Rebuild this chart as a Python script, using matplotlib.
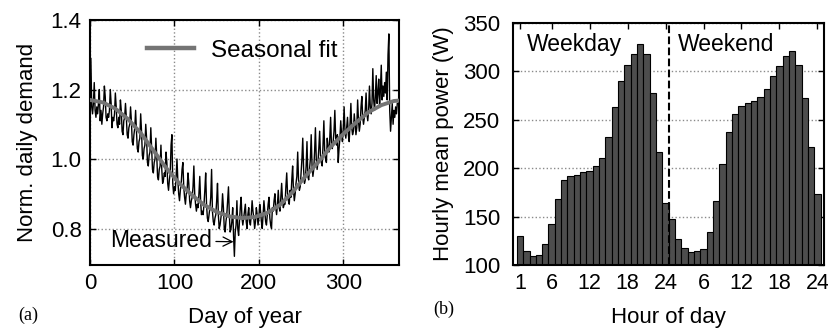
import numpy as np
import matplotlib.pyplot as plt
from matplotlib.lines import Line2D

plt.rcParams['font.family'] = ['Liberation Sans', 'DejaVu Sans']
plt.rcParams['font.size'] = 16

# (a) daily normalised demand, one value per day, read week by week
measured = [
    1.19, 1.29, 1.15, 1.13, 1.16, 1.22, 1.14,
    1.12, 1.15, 1.13, 1.16, 1.20, 1.11, 1.14,
    1.10, 1.13, 1.15, 1.21, 1.18, 1.12, 1.11,
    1.13, 1.12, 1.14, 1.20, 1.16, 1.09, 1.12,
    1.11, 1.13, 1.19, 1.15, 1.10, 1.09, 1.12,
    1.10, 1.17, 1.14, 1.08, 1.07, 1.11, 1.12,
    1.16, 1.12, 1.07, 1.06, 1.09, 1.10, 1.15,
    1.11, 1.05, 1.04, 1.07, 1.09, 1.14, 1.08,
    1.03, 1.02, 1.05, 1.06, 1.13, 1.08, 1.01,
    1.00, 1.03, 1.04, 1.10, 1.06, 0.99, 0.98,
    1.01, 1.02, 1.09, 1.03, 0.97, 0.96, 0.99,
    1.00, 1.06, 1.01, 0.95, 0.94, 0.97, 0.98,
    1.04, 0.97, 0.93, 0.94, 0.96, 0.95, 1.02,
    0.99, 0.93, 0.91, 0.94, 0.96, 1.04, 1.07,
    0.93, 0.90, 0.92, 0.91, 0.95, 1.00, 0.94,
    0.90, 0.88, 0.91, 0.93, 0.97, 0.99, 0.92,
    0.89, 0.87, 0.90, 0.91, 0.96, 0.93, 0.88,
    0.86, 0.88, 0.89, 0.92, 0.98, 0.90, 0.87,
    0.85, 0.87, 0.86, 0.90, 0.95, 0.88, 0.84,
    0.85, 0.84, 0.87, 0.91, 0.96, 0.87, 0.83,
    0.82, 0.84, 0.86, 0.89, 0.97, 0.85, 0.82,
    0.81, 0.83, 0.84, 0.88, 0.93, 0.84, 0.80,
    0.81, 0.83, 0.85, 0.90, 0.86, 0.80, 0.79,
    0.82, 0.84, 0.88, 0.92, 0.84, 0.79, 0.80,
    0.82, 0.86, 0.78, 0.72, 0.79, 0.81, 0.88,
    0.80, 0.78, 0.82, 0.86, 0.89, 0.83, 0.81,
    0.83, 0.85, 0.87, 0.82, 0.80, 0.84, 0.86,
    0.82, 0.81, 0.84, 0.88, 0.85, 0.83, 0.80,
    0.82, 0.86, 0.84, 0.81, 0.83, 0.87, 0.85,
    0.82, 0.80, 0.84, 0.88, 0.85, 0.82, 0.81,
    0.84, 0.87, 0.89, 0.83, 0.81, 0.80, 0.86,
    0.85, 0.88, 0.90, 0.86, 0.84, 0.87, 0.91,
    0.86, 0.85, 0.89, 0.93, 0.88, 0.86, 0.87,
    0.87, 0.92, 0.96, 0.90, 0.88, 0.87, 0.91,
    0.89, 0.94, 0.98, 0.91, 0.88, 0.90, 0.93,
    0.95, 1.02, 0.94, 0.91, 0.92, 0.96, 1.00,
    1.06, 0.97, 0.93, 0.94, 0.98, 1.05, 0.95,
    0.94, 0.97, 1.00, 1.07, 0.98, 0.95, 0.97,
    1.02, 1.09, 1.00, 0.97, 0.99, 1.03, 1.08,
    1.01, 0.99, 0.98, 1.04, 1.11, 1.02, 1.00,
    0.99, 1.06, 1.03, 1.02, 1.06, 1.12, 1.04,
    1.03, 1.05, 1.08, 1.14, 1.06, 1.04, 1.07,
    0.99, 1.03, 1.06, 1.11, 1.07, 1.05, 1.09,
    1.15, 1.08, 1.06, 1.09, 1.12, 1.07, 1.05,
    1.10, 1.16, 1.09, 1.07, 1.08, 1.13, 1.10,
    1.07, 1.09, 1.17, 1.11, 1.08, 1.10, 1.15,
    1.18, 1.12, 1.10, 1.12, 1.14, 1.19, 1.13,
    1.11, 1.14, 1.21, 1.15, 1.13, 1.16, 1.26,
    1.17, 1.14, 1.18, 1.24, 1.16, 1.19, 1.23,
    1.15, 1.20, 1.27, 1.17, 1.21, 1.18, 1.22,
    1.19, 1.25, 1.17, 1.30, 1.36, 1.14, 1.08,
    1.12, 1.16, 1.10, 1.14, 1.12, 1.15, 1.13,
    1.16,
]
days = np.arange(len(measured))

fit_days = [0, 15, 30, 45, 60, 75, 90, 105, 120, 135, 150, 165, 180,
            195, 210, 225, 240, 255, 270, 285, 300, 315, 330, 345, 360, 365]
fit_vals = [1.170, 1.163, 1.145, 1.115, 1.075, 1.025, 0.975, 0.932, 0.898,
            0.868, 0.848, 0.835, 0.830, 0.833, 0.845, 0.868, 0.905, 0.950,
            0.990, 1.035, 1.072, 1.105, 1.135, 1.155, 1.167, 1.168]

# (b) hourly mean power (W)
weekday_power = [130, 114, 109, 110, 122, 142, 168, 188, 192, 193, 196, 197,
                 202, 211, 232, 263, 290, 307, 318, 328, 318, 278, 217, 164]
weekend_power = [148, 127, 118, 113, 114, 117, 134, 166, 204, 237, 256, 264,
                 267, 269, 274, 282, 295, 306, 316, 321, 307, 273, 222, 173]
hour_ticks = [1, 6, 12, 18, 24, 30, 36, 42, 48]
hour_labels = ['1', '6', '12', '18', '24', '6', '12', '18', '24']

fig = plt.figure(figsize=(8.29, 3.28), dpi=100)
ax1 = fig.add_axes([0.1086, 0.192, 0.3727, 0.747])
ax2 = fig.add_axes([0.6185, 0.192, 0.3759, 0.738])

# ---- panel (a)
ax1.plot(days, measured, color='black', lw=1.0, zorder=2)
ax1.plot(fit_days, fit_vals, color='#747474', lw=2.8, zorder=3)
ax1.set_xlim(0, 366)
ax1.set_ylim(0.695, 1.4)
ax1.set_xticks([0, 100, 200, 300])
ax1.set_yticks([0.8, 1.0, 1.2, 1.4])
ax1.tick_params(direction='in', top=True, right=True, length=4, width=1,
                labelsize=16, pad=6)
ax1.grid(True, linestyle=':', color='#8a8a8a', lw=1)
ax1.set_axisbelow(True)
ax1.set_xlabel('Day of year', fontsize=16)
ax1.xaxis.set_label_coords(0.5, -0.172)
ax1.set_ylabel('Norm. daily demand', fontsize=16)
ax1.yaxis.set_label_coords(-0.17, 0.5)
ax1.annotate('Measured', xy=(170, 0.762), xytext=(23.5, 0.765),
             fontsize=16.5, va='center', ha='left',
             arrowprops=dict(arrowstyle='->', color='black', lw=0.9,
                             shrinkA=1, shrinkB=0))
leg_handle = Line2D([], [], color='#747474', lw=3.2)
ax1.legend([leg_handle], ['Seasonal fit'], loc='center left',
           bbox_to_anchor=(0.184, 0.875), frameon=False, fontsize=17.5,
           handlelength=1.95, handletextpad=0.7, borderpad=0, borderaxespad=0)

# ---- panel (b)
hours = np.arange(1, 49)
ax2.bar(hours, weekday_power + weekend_power, width=1.0, color='#4d4d4d',
        edgecolor='black', lw=0.8, zorder=2)
ax2.axvline(24.5, color='black', ls='--', lw=1.5, zorder=3)
ax2.set_xlim(-0.15, 49.1)
ax2.set_ylim(100, 350)
ax2.set_xticks(hour_ticks)
ax2.set_xticklabels(hour_labels)
ax2.set_yticks([100, 150, 200, 250, 300, 350])
ax2.tick_params(direction='in', top=True, right=True, length=4, width=1,
                labelsize=16, pad=6)
ax2.tick_params(axis='x', labelsize=15.5)
ax2.tick_params(axis='y', pad=9)
ax2.yaxis.grid(True, linestyle=':', color='#8a8a8a', lw=1)
ax2.set_axisbelow(True)
ax2.set_xlabel('Hour of day', fontsize=16)
ax2.xaxis.set_label_coords(0.5, -0.172)
ax2.set_ylabel('Hourly mean power (W)', fontsize=16)
ax2.yaxis.set_label_coords(-0.19, 0.5)
ax2.text(2.1, 328, 'Weekday', fontsize=16.5, va='center', ha='left')
ax2.text(25.9, 328, 'Weekend', fontsize=16.5, va='center', ha='left')

for ax in (ax1, ax2):
    for sp in ax.spines.values():
        sp.set_linewidth(1.5)

fig.text(18 / 829, 1 - 315 / 328, '(a)', family='Liberation Serif',
         fontsize=13, va='center', ha='left')
fig.text(433 / 829, 1 - 309 / 328, '(b)', family='Liberation Serif',
         fontsize=13, va='center', ha='left')

fig.savefig('out.png', dpi=100)
